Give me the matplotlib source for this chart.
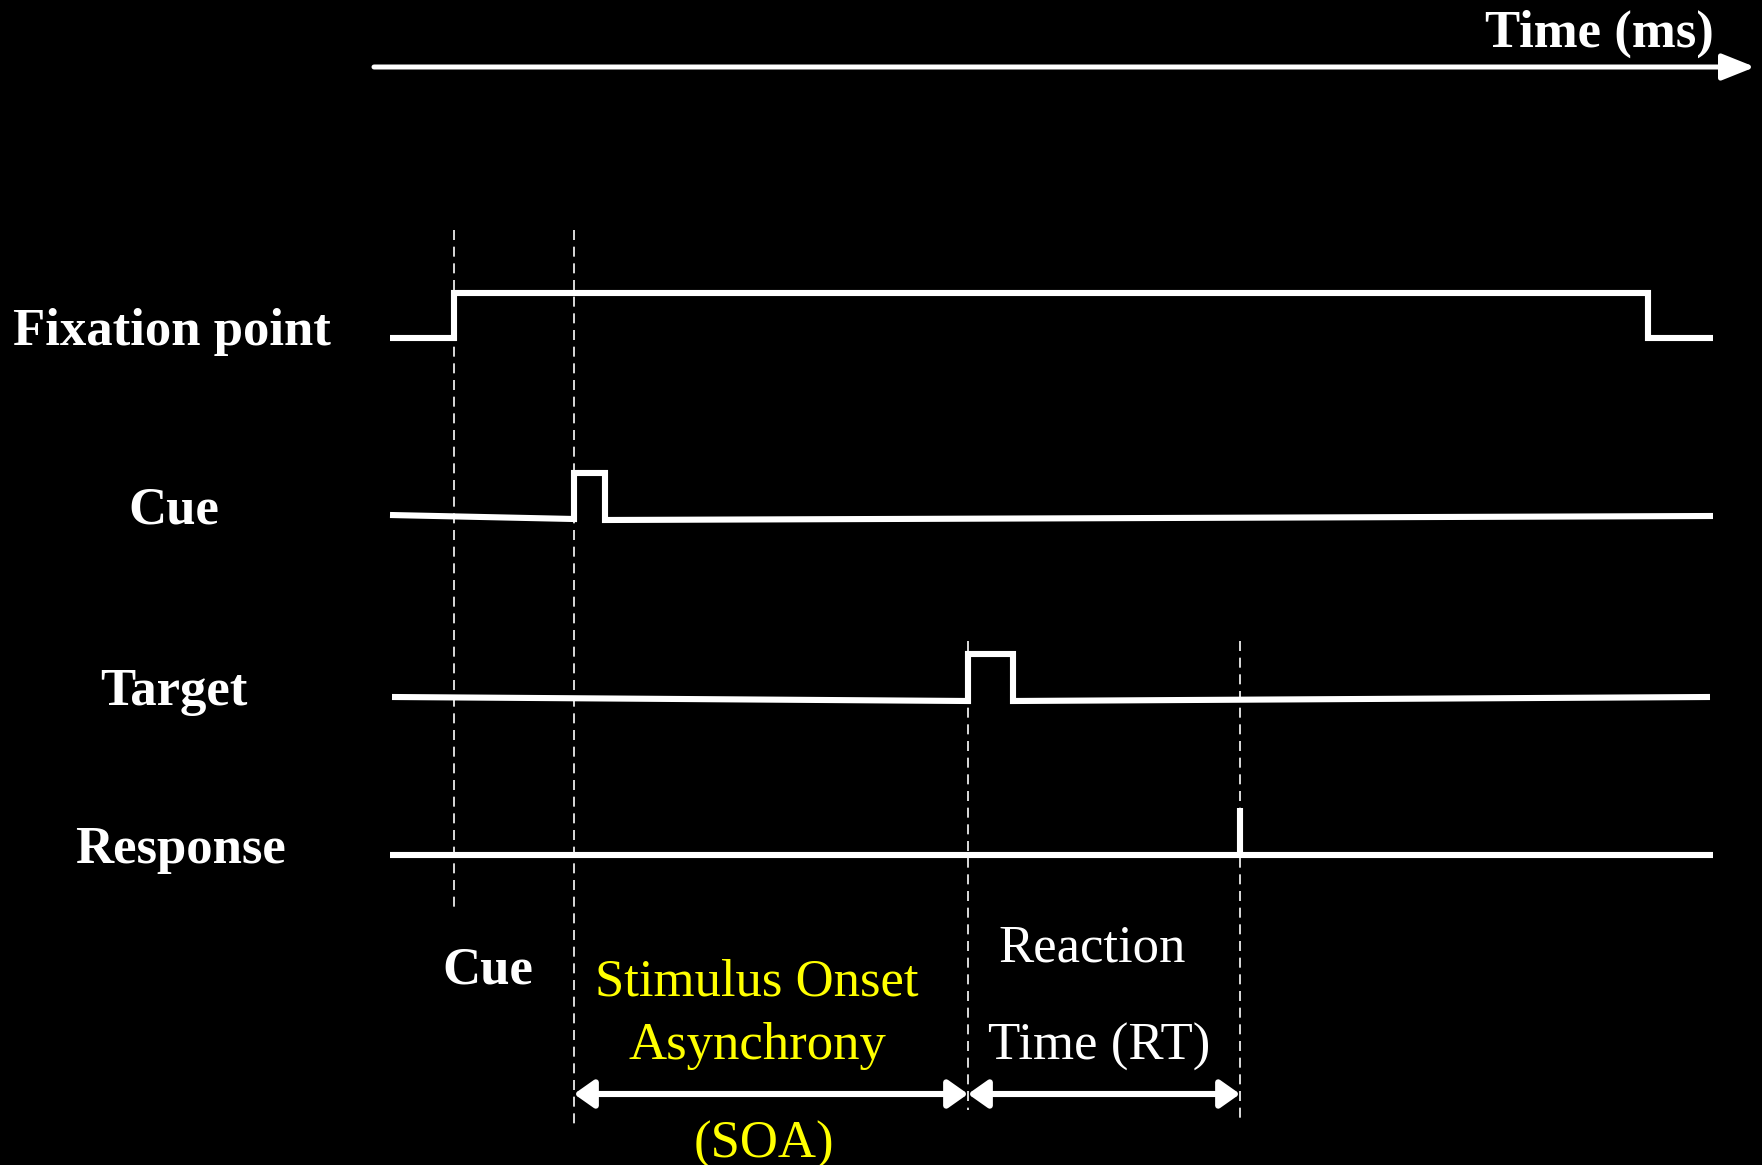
import matplotlib
matplotlib.use("Agg")
import matplotlib.pyplot as plt

# event times (timeline units, same scale as the figure width)
t_start = 390
t_fix_on = 454
t_cue_on = 574
t_cue_off = 605
t_target_on = 968
t_target_off = 1013
t_response = 1240
t_fix_off = 1648
t_end = 1713

# signal rows: x and level for each trace (level = row height, down is larger)
fix_x = [t_start, t_fix_on, t_fix_on, t_fix_off, t_fix_off, t_end]
fix_y = [338, 338, 293, 293, 338, 338]

cue_x = [t_start, t_cue_on, t_cue_on, t_cue_off, t_cue_off, t_end]
cue_y = [515, 519, 473, 473, 520, 516]

target_x = [t_start + 2, t_target_on, t_target_on, t_target_off, t_target_off, t_end - 3]
target_y = [697, 701, 654, 654, 701, 697]

resp_x = [t_start, t_end]
resp_y = [855, 855]
resp_tick = [855, 808]

row_labels = ["Fixation point", "Cue", "Target", "Response"]
row_label_x = [13, 174, 174, 180]
row_label_y = [332, 510, 692, 850]
row_label_ha = ["left", "center", "center", "center"]

font = "Liberation Serif"
fs = 38

fig = plt.figure(figsize=(17.62, 11.65), dpi=100, facecolor="black")
ax = fig.add_axes([0, 0, 1, 1])
ax.set_facecolor("black")
ax.set_xlim(0, 1762)
ax.set_ylim(1165, 0)
ax.axis("off")

# time axis
ax.annotate("", xy=(1755, 67), xytext=(374, 67),
            arrowprops=dict(arrowstyle="-|>,head_length=1.0,head_width=0.4",
                            mutation_scale=20, lw=3.6, color="white",
                            shrinkA=0, shrinkB=0))
ax.text(1714, 34, "Time (ms)", color="white", fontsize=fs, fontweight="bold",
        family=font, ha="right", va="center")

# dashed event markers
dash = dict(color="white", lw=1.2, linestyle=(0, (6, 4)))
ax.plot([t_fix_on, t_fix_on], [230, 908], **dash)
ax.plot([t_cue_on, t_cue_on], [230, 1124], **dash)
ax.plot([t_target_on, t_target_on], [641, 1110], **dash)
ax.plot([t_response, t_response], [641, 1124], **dash)

# traces
sig = dict(color="white", lw=4.4, solid_joinstyle="miter", solid_capstyle="butt")
ax.plot(fix_x, fix_y, **sig)
ax.plot(cue_x, cue_y, **sig)
ax.plot(target_x, target_y, **sig)
ax.plot(resp_x, resp_y, **sig)
ax.plot([t_response, t_response], resp_tick, **sig)

for lab, x, y, ha in zip(row_labels, row_label_x, row_label_y, row_label_ha):
    ax.text(x, y, lab, color="white", fontsize=fs, fontweight="bold",
            family=font, ha=ha, va="center")

# interval arrows
arr = dict(arrowstyle="<|-|>,head_length=0.85,head_width=0.6",
           mutation_scale=14, lw=4.4, color="white", shrinkA=0, shrinkB=0)
ax.annotate("", xy=(t_target_on, 1094), xytext=(t_cue_on, 1094), arrowprops=arr)
ax.annotate("", xy=(t_response, 1094), xytext=(t_target_on, 1094), arrowprops=arr)

# interval labels
ax.text(488, 970, "Cue", color="white", fontsize=fs, fontweight="bold",
        family=font, ha="center", va="center")
ax.text(757, 982, "Stimulus Onset", color="yellow", fontsize=fs,
        family=font, ha="center", va="center")
ax.text(757, 1046, "Asynchrony", color="yellow", fontsize=fs,
        family=font, ha="center", va="center")
ax.text(764, 1145, "(SOA)", color="yellow", fontsize=fs,
        family=font, ha="center", va="center")
ax.text(1092, 948, "Reaction", color="white", fontsize=fs,
        family=font, ha="center", va="center")
ax.text(1099, 1047, "Time (RT)", color="white", fontsize=fs,
        family=font, ha="center", va="center")

fig.savefig("out.png", dpi=100, facecolor="black")
